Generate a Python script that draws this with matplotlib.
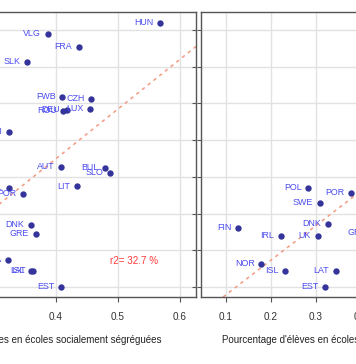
import matplotlib.pyplot as plt
import numpy as np

plt.rcParams['font.family'] = ['Liberation Sans', 'DejaVu Sans']

# panneau gauche : ségrégation sociale
left_countries = ["HUN", "VLG", "FRA", "SLK", "FWB", "CZH", "LUX", "ROU", "DEU", "SUI",
                  "AUT", "BUL", "SLO", "LIT", "POL", "POR", "DNK", "GRE", "ITA", "ISL",
                  "LAT", "EST"]
left_x = [0.568, 0.387, 0.437, 0.354, 0.411, 0.457, 0.455, 0.412, 0.418, 0.325,
          0.409, 0.479, 0.488, 0.434, 0.325, 0.348, 0.360, 0.368, 0.323, 0.360,
          0.363, 0.409]
left_y = [121.9, 118.9, 115.3, 111.3, 101.7, 101.2, 98.5, 98.0, 98.2, 92.2,
          82.8, 82.5, 81.0, 77.4, 77.0, 75.4, 67.0, 64.5, 57.4, 54.4,
          54.4, 50.1]
left_fit = (30.6, 135.7)   # intercept, pente
left_r2 = "r2= 32.7 %"

# panneau droit
right_countries = ["POL", "POR", "SWE", "DNK", "FIN", "IRL", "UK", "GRE", "NOR", "ISL",
                   "LAT", "EST"]
right_x = [0.283, 0.379, 0.309, 0.327, 0.127, 0.222, 0.304, 0.427, 0.179, 0.232,
           0.344, 0.321]
right_y = [77.1, 75.6, 73.0, 67.1, 66.1, 64.0, 63.9, 64.6, 56.2, 54.4,
           54.4, 50.1]
right_fit = (38.4, 94.3)

x_ticks = [0.0, 0.1, 0.2, 0.3, 0.4, 0.5, 0.6, 0.7, 0.8]
y_ticks = [50, 60, 70, 80, 90, 100, 110, 120]

W, H = 356, 364
fig = plt.figure(figsize=(W / 100, H / 100), dpi=100)

top, bottom = 12, 297
ax1 = fig.add_axes([-180 / W, 1 - bottom / H, 376 / W, (bottom - top) / H])
ax2 = fig.add_axes([201 / W, 1 - bottom / H, 359 / W, (bottom - top) / H])

dot_color = "#34349a"
lab_color = "#4b4bf0"
line_color = "#f39a82"


def draw_panel(ax, names, xs, ys, fit, xlim):
    ax.set_xticks(x_ticks)
    ax.set_yticks(y_ticks)
    ax.set_xlim(*xlim)
    ax.set_ylim(47.28, 124.91)
    ax.grid(True, color="#e2e2e2", linewidth=1)
    ax.set_axisbelow(True)
    ax.axline((0, fit[0]), slope=fit[1], color=line_color, linewidth=1.1,
              linestyle=(0, (2.2, 2.6)), zorder=2)
    ax.scatter(xs, ys, s=21, color=dot_color, zorder=3, linewidths=0)
    for name, x, y in zip(names, xs, ys):
        ax.annotate(name, (x, y), xytext=(-4.7, 0.3), textcoords="offset points",
                    ha="right", va="center", fontsize=6.4, color=lab_color, zorder=4)
    for s in ax.spines.values():
        s.set_color("#555555")
        s.set_linewidth(1)
    ax.tick_params(axis="x", direction="out", length=3.6, width=0.8, color="#555555",
                   labelsize=7.2, pad=7, labelcolor="#333333")


draw_panel(ax1, left_countries, left_x, left_y, left_fit, (0.4 - 235 / 620, 0.6 + 16 / 620))
draw_panel(ax2, right_countries, right_x, right_y, right_fit, (0.1 - 24.7 / 450, 0.1 - 24.7 / 450 + 359 / 450))

ax1.tick_params(axis="y", left=False, labelleft=False, right=True, direction="in",
                length=3, color="#555555")
ax2.tick_params(axis="y", left=True, labelleft=False, direction="out",
                length=3, color="#555555")

ax1.text(110 / W, 1 - 260.7 / H, left_r2, transform=fig.transFigure, ha="left", va="center",
         fontsize=7.1, color="#ff3a3a")

fig.text(162 / W, 1 - 340 / H, "Pourcentage d'élèves en écoles socialement ségréguées",
         ha="right", va="center", fontsize=7, color="#222222")
fig.text(221.7 / W, 1 - 340 / H, "Pourcentage d'élèves en écoles académiquement ségréguées",
         ha="left", va="center", fontsize=7, color="#222222")

fig.savefig("out.png", dpi=100)
